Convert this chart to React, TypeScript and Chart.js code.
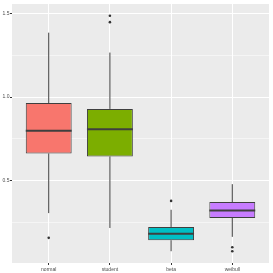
import { useEffect, useRef } from "react";
import { Chart, registerables } from "chart.js";
Chart.register(...registerables);

const categories = ["normal", "student", "beta", "weibull"];
const q1 = [0.663, 0.645, 0.144, 0.277];
const medians = [0.798, 0.808, 0.182, 0.322];
const q3 = [0.964, 0.929, 0.223, 0.372];
const whiskerLow = [0.306, 0.217, 0.078, 0.164];
const whiskerHigh = [1.385, 1.266, 0.326, 0.479];
const outlierCategory = [1, 2, 2, 3, 4, 4];
const outlierValues = [0.158, 1.486, 1.448, 0.379, 0.102, 0.078];
const fillColors = ["#F8766D", "#7CAE00", "#00BFC4", "#C77CFF"];
const yMajorTicks = [0.5, 1.0, 1.5];
const yMinorTicks = [0.25, 0.75, 1.25];

const allValues = [...whiskerLow, ...whiskerHigh, ...outlierValues];
const dMin = Math.min(...allValues);
const dMax = Math.max(...allValues);
const yMin = dMin - (dMax - dMin) * 0.05;
const yMax = dMax + (dMax - dMin) * 0.05;

const lineColor = "#3F3F3F";

const boxPlugin = {
  id: "boxParts",
  beforeDatasetsDraw(chart: any) {
    const ctx = chart.ctx;
    const xs = chart.scales.x;
    const ys = chart.scales.y;
    ctx.save();
    ctx.strokeStyle = lineColor;
    ctx.lineWidth = 1;
    for (let i = 0; i < categories.length; i++) {
      const x = xs.getPixelForValue(i + 1);
      ctx.beginPath();
      ctx.moveTo(x, ys.getPixelForValue(whiskerHigh[i]));
      ctx.lineTo(x, ys.getPixelForValue(q3[i]));
      ctx.moveTo(x, ys.getPixelForValue(q1[i]));
      ctx.lineTo(x, ys.getPixelForValue(whiskerLow[i]));
      ctx.stroke();
    }
    ctx.restore();
  },
  afterDatasetsDraw(chart: any) {
    const ctx = chart.ctx;
    const ys = chart.scales.y;
    const meta = chart.getDatasetMeta(0);
    ctx.save();
    ctx.strokeStyle = lineColor;
    ctx.lineWidth = 2;
    for (let i = 0; i < categories.length; i++) {
      const bar: any = meta.data[i];
      const y = ys.getPixelForValue(medians[i]);
      ctx.beginPath();
      ctx.moveTo(bar.x - bar.width / 2, y);
      ctx.lineTo(bar.x + bar.width / 2, y);
      ctx.stroke();
    }
    ctx.restore();
  },
};

const bgPlugin = {
  id: "panelBg",
  beforeDraw(chart: any) {
    const { ctx, chartArea } = chart;
    ctx.save();
    ctx.fillStyle = "#FFFFFF";
    ctx.fillRect(0, 0, chart.width, chart.height);
    ctx.fillStyle = "#EBEBEB";
    ctx.fillRect(chartArea.left, chartArea.top, chartArea.right - chartArea.left, chartArea.bottom - chartArea.top);
    ctx.restore();
  },
};

export default function App() {
  const ref = useRef<HTMLCanvasElement>(null);
  useEffect(() => {
    if (!ref.current) return;
    const font = { family: "'Liberation Sans', Arial, sans-serif", size: 5 };
    const chart = new Chart(ref.current, {
      type: "bar",
      data: {
        datasets: [
          {
            type: "bar",
            data: categories.map((_, i) => ({ x: i + 1, y: [q1[i], q3[i]] })) as any,
            backgroundColor: fillColors,
            borderColor: lineColor,
            borderWidth: 1,
            borderSkipped: false,
            barPercentage: 0.75,
            categoryPercentage: 1,
          } as any,
          {
            type: "scatter",
            data: outlierValues.map((v, i) => ({ x: outlierCategory[i], y: v })),
            backgroundColor: "#333333",
            borderWidth: 0,
            pointRadius: 1.3,
          } as any,
        ],
      },
      options: {
        animation: false,
        responsive: false,
        maintainAspectRatio: false,
        layout: { padding: { top: 3, right: 3, left: 0, bottom: 0 } },
        plugins: { legend: { display: false }, tooltip: { enabled: false } },
        scales: {
          x: {
            type: "linear",
            min: 0.4,
            max: 4.6,
            offset: false,
            afterBuildTicks: (s: any) => {
              s.ticks = categories.map((_, i) => ({ value: i + 1 }));
            },
            afterFit: (s: any) => {
              s.height = 10;
              s.paddingLeft = 0;
              s.paddingRight = 0;
            },
            ticks: {
              font,
              color: "#4D4D4D",
              padding: 1.5,
              maxRotation: 0,
              autoSkip: false,
              callback: (v: any) => categories[Math.round(v) - 1] ?? "",
            },
            grid: { offset: false, color: "#FFFFFF", lineWidth: 1, tickLength: 2, tickColor: "#333333" },
            border: { display: false },
          },
          y: {
            type: "linear",
            min: yMin,
            max: yMax,
            afterBuildTicks: (s: any) => {
              s.ticks = [...yMinorTicks, ...yMajorTicks].sort((a, b) => a - b).map((v) => ({ value: v }));
            },
            afterFit: (s: any) => {
              s.width = 12;
              s.paddingTop = 0;
              s.paddingBottom = 0;
            },
            ticks: {
              font,
              color: "#4D4D4D",
              padding: 0.5,
              autoSkip: false,
              callback: (v: any) => (yMajorTicks.includes(v) ? v.toFixed(1) : ""),
            },
            grid: {
              offset: false,
              color: "#FFFFFF",
              lineWidth: (c: any) => (yMajorTicks.includes(c.tick?.value) ? 1 : 0.5),
              tickLength: 2,
              tickColor: (c: any) => (yMajorTicks.includes(c.tick?.value) ? "#333333" : "rgba(0,0,0,0)"),
            },
            border: { display: false },
          },
        },
      } as any,
      plugins: [bgPlugin, boxPlugin],
    });
    return () => chart.destroy();
  }, []);
  return (
    <div style={{ position: "fixed", left: 0, top: 0, width: 273, height: 273, background: "#fff" }}>
      <canvas ref={ref} width={273} height={273} style={{ width: 273, height: 273, display: "block" }} />
    </div>
  );
}
